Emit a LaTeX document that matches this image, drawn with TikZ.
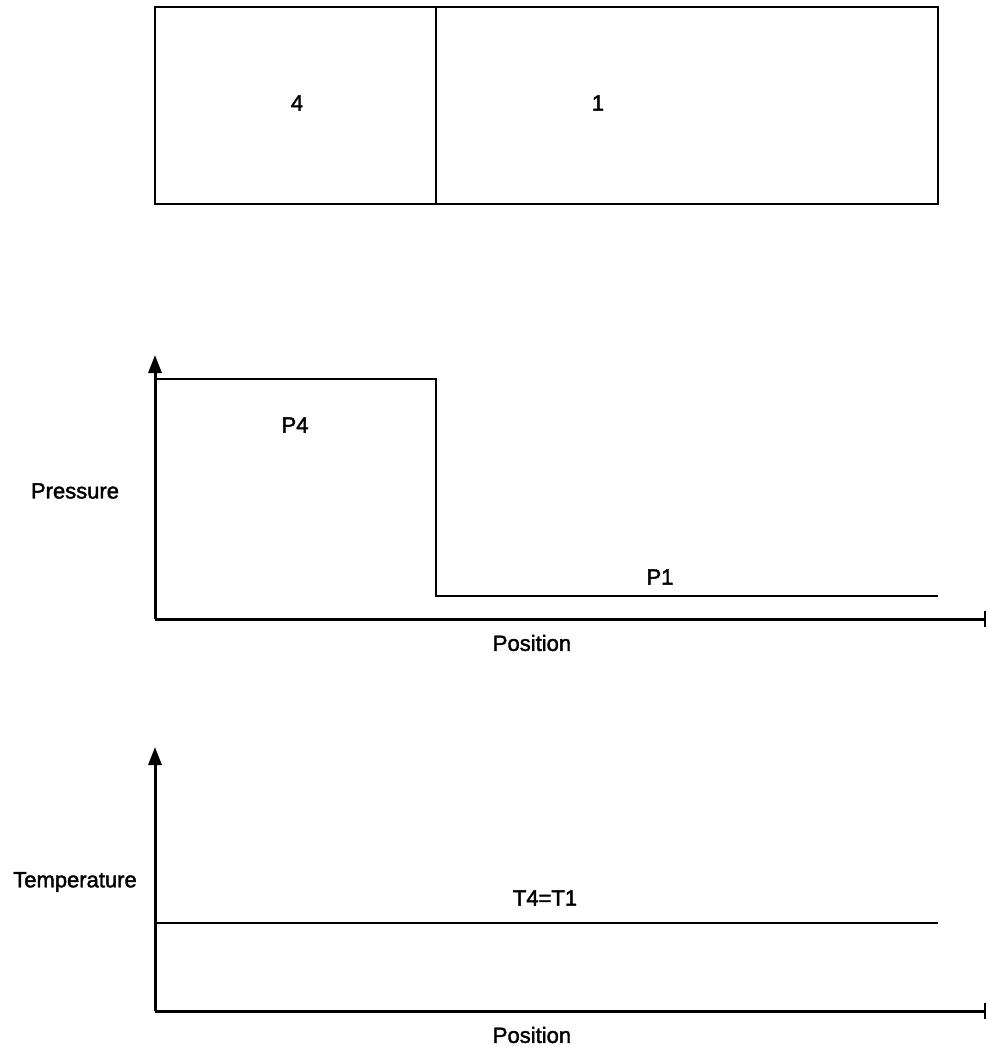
\documentclass[tikz,border=0pt]{standalone}
\usepackage{fontspec}
\newfontfamily\lblfont[FakeBold=1.8]{Liberation Sans}
\usetikzlibrary{arrows.meta}
\begin{document}
\begin{tikzpicture}[x=1pt,y=-1pt,
  lbl/.style={font=\lblfont\fontsize{22}{26}\selectfont, inner sep=0pt},
  thin line/.style={line width=2pt},
  axis/.style={line width=3pt},
  yaxis/.style={axis, -{Triangle[length=18pt,width=13pt]}},
  xaxis/.style={axis, -{Bar[width=16pt,line width=2.5pt]}}]
\useasboundingbox (0,0) rectangle (987,1047);

% shock tube: driver section 4 and driven section 1
\coordinate (tl) at (155,7);
\coordinate (br) at (938,204);
\coordinate (dtop) at (436,7);
\coordinate (dbot) at (436,204);
\draw[thin line] (tl) rectangle (br);
\draw[thin line] (dtop) -- (dbot);
\node[lbl] (s4) at (297,103) {4};
\node[lbl] (s1) at (598,103) {1};

% pressure distribution
\coordinate (po) at (155,619);
\coordinate (pyt) at (155,355);
\coordinate (pxe) at (986,619);
\draw[yaxis] (po) -- (pyt);
\draw[xaxis] (po) -- (pxe);
\coordinate (p4a) at (155,379);
\coordinate (p4b) at (436,379);
\coordinate (p1a) at (436,596);
\coordinate (p1b) at (938,596);
\draw[thin line] (p4a) -- (p4b) -- (p1a) -- (p1b);
\node[lbl] (lp4) at (295,425) {P4};
\node[lbl] (lp1) at (660,577) {P1};
\node[lbl] (lpres) at (75,491) {Pressure};
\node[lbl] (lpos1) at (532,643) {Position};

% temperature distribution
\coordinate (to) at (155,1011);
\coordinate (tyt) at (155,747);
\coordinate (txe) at (986,1011);
\draw[yaxis] (to) -- (tyt);
\draw[xaxis] (to) -- (txe);
\coordinate (ta) at (155,923);
\coordinate (tb) at (938,923);
\draw[thin line] (ta) -- (tb);
\node[lbl] (lt) at (545,898) {T4=T1};
\node[lbl] (ltemp) at (75,882) {Temperature};
\node[lbl] (lpos2) at (532,1035) {Position};
\end{tikzpicture}
\end{document}
